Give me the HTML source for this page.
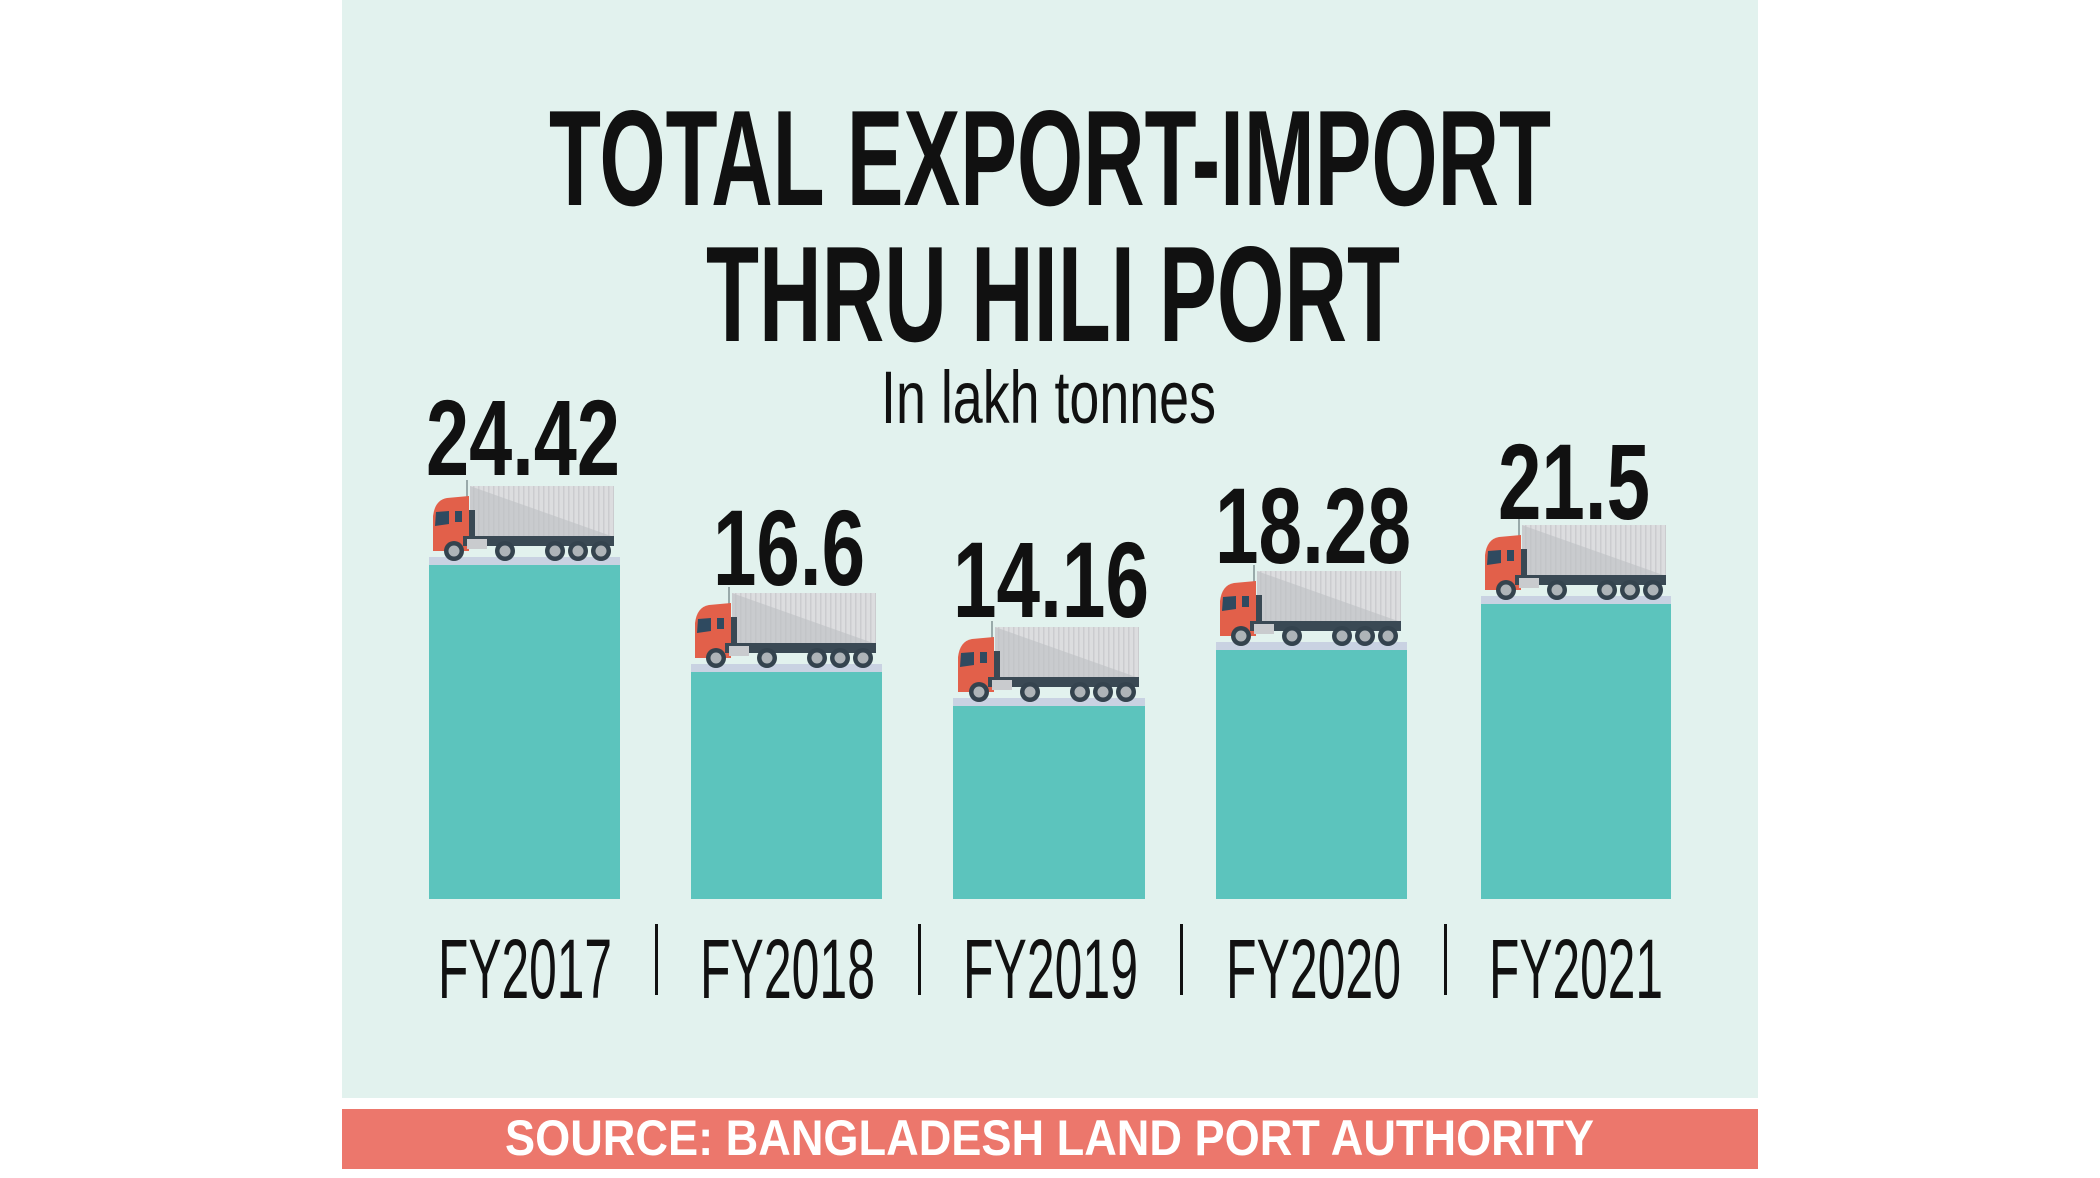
<!DOCTYPE html>
<html><head><meta charset="utf-8"><style>
html,body{margin:0;padding:0;background:#fff;}
svg{display:block;}
</style></head><body>
<svg width="2100" height="1178" viewBox="0 0 2100 1178" xmlns="http://www.w3.org/2000/svg">
<defs>
<pattern id="st" width="5" height="10" patternUnits="userSpaceOnUse"><rect width="5" height="10" fill="none"/><rect x="0" width="1.5" height="10" fill="#bfc2c5" opacity="0.6"/></pattern>
<g id="truck">
  <rect x="37" y="2" width="144" height="51" fill="#c9cbce"/>
  <polygon points="37,2 181,2 181,53" fill="#dcdddf"/>
  <rect x="37" y="2" width="144" height="51" fill="url(#st)"/>
  <rect x="33" y="-4" width="2" height="20" fill="#9aa"/>
  <path d="M0,67 L0,32 Q2,16 14,14 L36,12 L36,67 Z" fill="#e2604a"/>
  <rect x="36" y="26" width="6" height="30" fill="#3a4954"/>
  <polygon points="3,28 16,27 16,40 2,42" fill="#2f4a60"/>
  <rect x="22" y="27" width="7" height="11" fill="#2f4a60"/>
  <rect x="30" y="52" width="151" height="10" fill="#3a4954"/>
  <rect x="34" y="55" width="20" height="10" fill="#c9cbce"/>
  <g fill="#34434e"><circle cx="21" cy="67" r="10"/><circle cx="72" cy="67" r="10"/><circle cx="122" cy="67" r="10"/><circle cx="145" cy="67" r="10"/><circle cx="168" cy="67" r="10"/></g>
  <g fill="#aeb4b8"><circle cx="21" cy="67" r="5.5"/><circle cx="72" cy="67" r="5.5"/><circle cx="122" cy="67" r="5.5"/><circle cx="145" cy="67" r="5.5"/><circle cx="168" cy="67" r="5.5"/></g>
</g>
</defs>
<rect x="342" y="0" width="1416" height="1098" fill="#e2f2ee"/>
<rect x="342" y="1109" width="1416" height="60" fill="#ec776c"/>
<g font-family="'Liberation Sans Narrow','Liberation Sans',sans-serif" fill="#111">
<text x="549" y="205" font-size="136" font-weight="bold" textLength="1002" lengthAdjust="spacingAndGlyphs">TOTAL EXPORT-IMPORT</text>
<text x="706" y="341" font-size="136" font-weight="bold" textLength="694" lengthAdjust="spacingAndGlyphs">THRU HILI PORT</text>
<text x="881" y="423" font-size="74" textLength="335" lengthAdjust="spacingAndGlyphs">In lakh tonnes</text>
<text x="505" y="1155" font-size="50" font-weight="bold" fill="#fff" textLength="1089" lengthAdjust="spacingAndGlyphs">SOURCE: BANGLADESH LAND PORT AUTHORITY</text>
</g>
<g fill="#5cc4bd">
<rect x="429" y="565" width="191" height="334"/>
<rect x="691" y="672" width="191" height="227"/>
<rect x="953" y="706" width="192" height="193"/>
<rect x="1216" y="650" width="191" height="249"/>
<rect x="1481" y="604" width="190" height="295"/>
</g>
<g fill="#c9d2e2">
<rect x="429" y="557" width="191" height="8"/>
<rect x="691" y="664" width="191" height="8"/>
<rect x="953" y="698" width="192" height="8"/>
<rect x="1216" y="642" width="191" height="8"/>
<rect x="1481" y="596" width="190" height="8"/>
</g>
<use href="#truck" x="433" y="484"/>
<use href="#truck" x="695" y="591"/>
<use href="#truck" x="958" y="625"/>
<use href="#truck" x="1220" y="569"/>
<use href="#truck" x="1485" y="523"/>
<g font-family="'Liberation Sans Narrow','Liberation Sans',sans-serif" font-weight="bold" font-size="108" fill="#111">
<text x="426" y="475" textLength="194" lengthAdjust="spacingAndGlyphs">24.42</text>
<text x="713" y="585" textLength="152" lengthAdjust="spacingAndGlyphs">16.6</text>
<text x="953" y="617" textLength="196" lengthAdjust="spacingAndGlyphs">14.16</text>
<text x="1215" y="563" textLength="196" lengthAdjust="spacingAndGlyphs">18.28</text>
<text x="1498" y="519" textLength="152" lengthAdjust="spacingAndGlyphs">21.5</text>
</g>
<g font-family="'Liberation Sans Narrow','Liberation Sans',sans-serif" font-size="84" fill="#111">
<text x="438" y="998" textLength="174" lengthAdjust="spacingAndGlyphs">FY2017</text>
<text x="700" y="998" textLength="175" lengthAdjust="spacingAndGlyphs">FY2018</text>
<text x="963" y="998" textLength="175" lengthAdjust="spacingAndGlyphs">FY2019</text>
<text x="1226" y="998" textLength="175" lengthAdjust="spacingAndGlyphs">FY2020</text>
<text x="1489" y="998" textLength="174" lengthAdjust="spacingAndGlyphs">FY2021</text>
</g>
<g fill="#111">
<rect x="655" y="924" width="3" height="71"/>
<rect x="918" y="924" width="3" height="71"/>
<rect x="1180" y="924" width="3" height="71"/>
<rect x="1444" y="924" width="3" height="71"/>
</g>
</svg>
</body></html>
